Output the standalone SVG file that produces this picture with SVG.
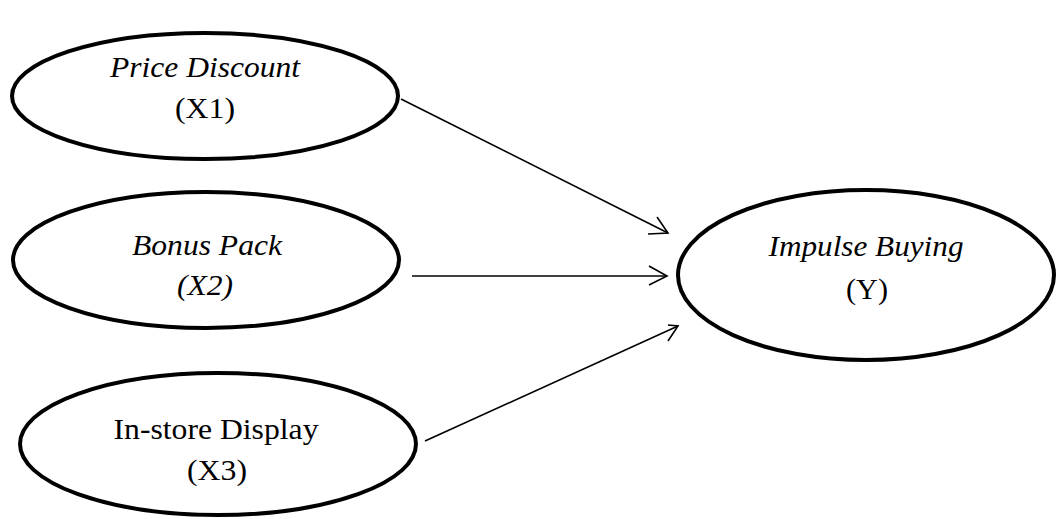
<svg xmlns="http://www.w3.org/2000/svg" width="1059" height="519" viewBox="0 0 1059 519">
<style>
.node ellipse{fill:#fff;stroke:#000;stroke-width:4}
text{font-family:"Liberation Serif","Times New Roman",serif;font-size:30px;fill:#000;text-anchor:middle}
.i{font-style:italic}
.conn line{stroke:#000;stroke-width:1.6}
.conn polyline{fill:none;stroke:#000;stroke-width:1.6}
</style>
<rect width="1059" height="519" fill="#fff"/>
<g id="x1" class="node">
<ellipse cx="205" cy="96" rx="193" ry="63"/>
<text x="205" y="77" class="i" textLength="190" lengthAdjust="spacingAndGlyphs">Price Discount</text>
<text x="205" y="118" textLength="60" lengthAdjust="spacingAndGlyphs">(X1)</text>
</g>
<g id="x2" class="node">
<ellipse cx="206" cy="260" rx="193" ry="68"/>
<text x="207" y="255" class="i" textLength="150" lengthAdjust="spacingAndGlyphs">Bonus Pack</text>
<text x="205" y="295" class="i" textLength="56" lengthAdjust="spacingAndGlyphs">(X2)</text>
</g>
<g id="x3" class="node">
<ellipse cx="218" cy="444" rx="198" ry="71"/>
<text x="216" y="439" textLength="205" lengthAdjust="spacingAndGlyphs">In-store Display</text>
<text x="217" y="480" textLength="60" lengthAdjust="spacingAndGlyphs">(X3)</text>
</g>
<g id="y" class="node">
<ellipse cx="866" cy="275" rx="188" ry="85"/>
<text x="866" y="256" class="i" textLength="195" lengthAdjust="spacingAndGlyphs">Impulse Buying</text>
<text x="867" y="299" textLength="42" lengthAdjust="spacingAndGlyphs">(Y)</text>
</g>
<g id="connectors" class="conn">
<line x1="401" y1="99" x2="668" y2="233"/>
<polyline points="648,234 668,233 657,217"/>
<line x1="412" y1="276" x2="667" y2="276"/>
<polyline points="649,266 667,276 649,285"/>
<line x1="425" y1="441" x2="678" y2="326"/>
<polyline points="668,325 678,326 668,341"/>
</g>
</svg>
